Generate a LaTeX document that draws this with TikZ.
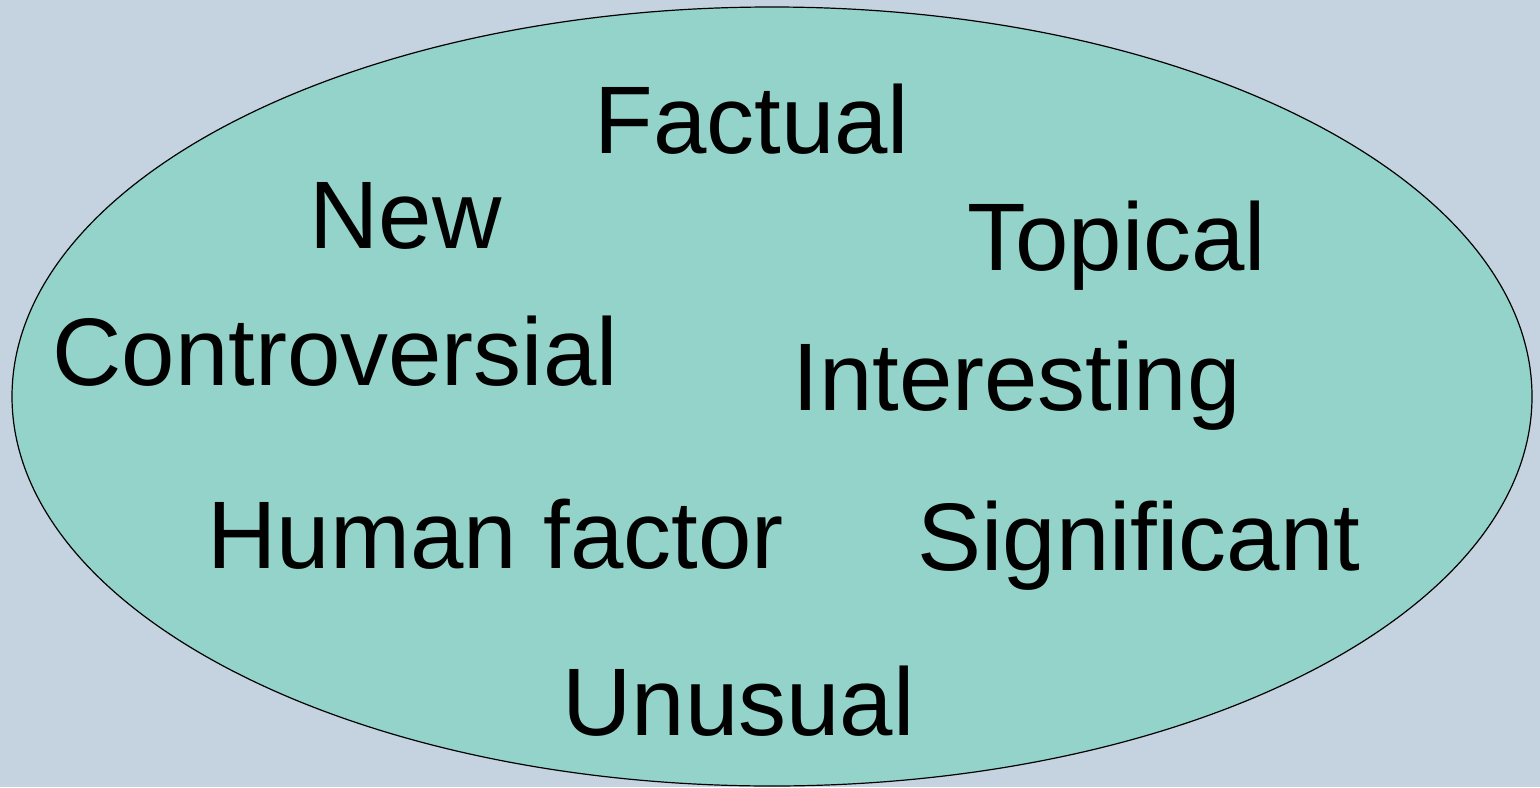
\documentclass[tikz,border=0pt]{standalone}
\usepackage{fontspec}
\setmainfont{Liberation Sans}
\definecolor{slidebg}{RGB}{197,211,224}
\definecolor{ovalfill}{RGB}{147,211,202}
\tikzset{
	word/.style={anchor=base west, inner sep=0pt, font=\fontsize{48}{56}\selectfont}
}
\begin{document}
\begin{tikzpicture}[x=0.5pt,y=-0.5pt]
	\fill[slidebg] (0,0) rectangle (1540,787);
	\useasboundingbox (0,0) rectangle (1540,787);
	\draw[fill=ovalfill, line width=0.6pt] (772,396.5) ellipse [x radius=760, y radius=389.5];
	\node[word] (factual) at (594,153) {Factual};
	\node[word] (new) at (309,248) {New};
	\node[word] (topical) at (967,270) {Topical};
	\node[word] (controversial) at (52,385) {Controversial};
	\node[word] (interesting) at (792,410) {Interesting};
	\node[word] (human) at (207,568) {Human factor};
	\node[word] (significant) at (917,570) {Significant};
	\node[word] (unusual) at (562,735) {Unusual};
\end{tikzpicture}
\end{document}
